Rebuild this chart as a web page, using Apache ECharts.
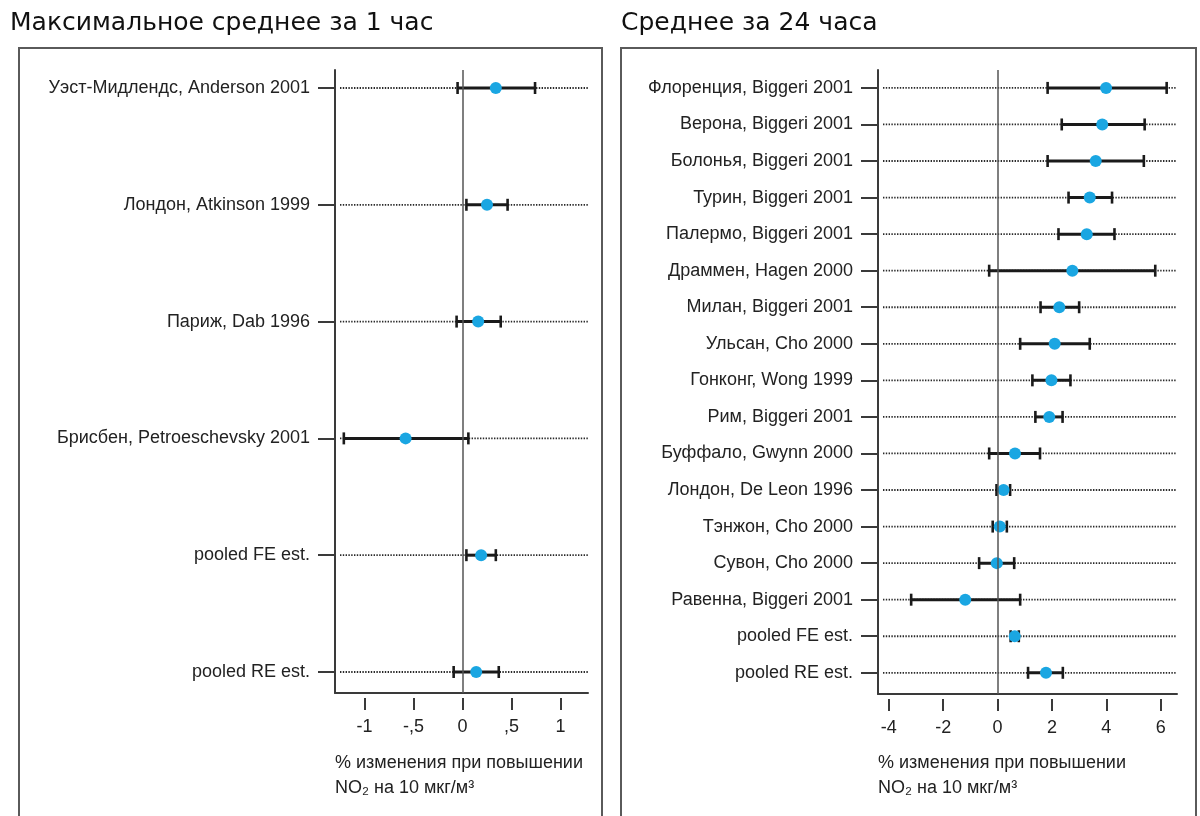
<!DOCTYPE html>
<html>
<head>
<meta charset="utf-8">
<script src="https://cdn.jsdelivr.net/npm/echarts@6/dist/echarts.min.js"></script>
<style>html,body{margin:0;padding:0;background:#fff}#c{width:1200px;height:816px}</style>
</head>
<body>
<div id="c"></div>
<script>
// ---- data ----
const leftTitle = 'Максимальное среднее за 1 час';
const rightTitle = 'Среднее за 24 часа';
const axisNameText = '% изменения при повышении\nNO₂ на 10 мкг/м³';

const leftLabels = ['Уэст-Мидлендс, Anderson 2001', 'Лондон, Atkinson 1999', 'Париж, Dab 1996',
  'Брисбен, Petroeschevsky 2001', 'pooled FE est.', 'pooled RE est.'];
const leftEst  = [0.34, 0.25, 0.16, -0.58, 0.19, 0.14];
const leftLow  = [-0.05, 0.04, -0.06, -1.21, 0.04, -0.09];
const leftHigh = [0.74, 0.46, 0.39, 0.06, 0.34, 0.37];
const leftTickValues = [-1, -0.5, 0, 0.5, 1];
const leftTickLabels = ['-1', '-,5', '0', ',5', '1'];

const rightLabels = ['Флоренция, Biggeri 2001', 'Верона, Biggeri 2001', 'Болонья, Biggeri 2001',
  'Турин, Biggeri 2001', 'Палермо, Biggeri 2001', 'Драммен, Hagen 2000', 'Милан, Biggeri 2001',
  'Ульсан, Cho 2000', 'Гонконг, Wong 1999', 'Рим, Biggeri 2001', 'Буффало, Gwynn 2000',
  'Лондон, De Leon 1996', 'Тэнжон, Cho 2000', 'Сувон, Cho 2000', 'Равенна, Biggeri 2001',
  'pooled FE est.', 'pooled RE est.'];
const rightEst  = [3.99, 3.85, 3.61, 3.39, 3.28, 2.75, 2.27, 2.10, 1.98, 1.90, 0.64, 0.22, 0.08, -0.03, -1.19, 0.63, 1.78];
const rightLow  = [1.84, 2.36, 1.84, 2.61, 2.24, -0.31, 1.58, 0.83, 1.28, 1.39, -0.31, -0.04, -0.18, -0.68, -3.18, 0.48, 1.12];
const rightHigh = [6.22, 5.41, 5.38, 4.21, 4.30, 5.80, 3.00, 3.39, 2.68, 2.39, 1.56, 0.46, 0.34, 0.61, 0.83, 0.78, 2.40];
const rightTickValues = [-4, -2, 0, 2, 4, 6];
const rightTickLabels = ['-4', '-2', '0', '2', '4', '6'];

// ---- build ----
const FONT = 'Liberation Sans';
const FS = 18;
const AX = '#3a3a3a';
const DOT = '#1aa6e2';

function rows(labels, est, low, high) {
  return labels.map((_, i) => [i, low[i], est[i], high[i]]);
}

function renderItem(params, api) {
  const i = api.value(0);
  const pLo = api.coord([api.value(1), i]);
  const pEst = api.coord([api.value(2), i]);
  const pHi = api.coord([api.value(3), i]);
  const cs = params.coordSys;
  const y = pEst[1];
  return {
    type: 'group',
    children: [
      { type: 'line', shape: { x1: cs.x + 5, y1: y, x2: cs.x + cs.width, y2: y },
        style: { stroke: '#2a2a2a', lineWidth: 1.8, lineDash: [1.4, 1.4] } },
      { type: 'line', shape: { x1: pLo[0], y1: y, x2: pHi[0], y2: y },
        style: { stroke: '#1a1a1a', lineWidth: 3 } },
      { type: 'line', shape: { x1: pLo[0], y1: y - 6, x2: pLo[0], y2: y + 6 },
        style: { stroke: '#1a1a1a', lineWidth: 2.6 } },
      { type: 'line', shape: { x1: pHi[0], y1: y - 6, x2: pHi[0], y2: y + 6 },
        style: { stroke: '#1a1a1a', lineWidth: 2.6 } },
      { type: 'circle', shape: { cx: pEst[0], cy: y, r: 6 },
        style: { fill: DOT } }
    ]
  };
}

function xLine(gi, min, max) {
  return { gridIndex: gi, type: 'value', min: min, max: max, position: 'bottom',
    axisLine: { show: true, onZero: false, lineStyle: { color: AX, width: 2 } },
    axisTick: { show: false }, axisLabel: { show: false }, splitLine: { show: false } };
}
function xTicks(gi, min, max, vals, labs) {
  return { gridIndex: gi, type: 'value', min: min, max: max, position: 'bottom', offset: 5,
    axisLine: { show: false, onZero: false },
    axisTick: { show: true, customValues: vals, length: 12, lineStyle: { color: AX, width: 2 } },
    axisLabel: { show: true, customValues: vals, margin: 20, fontFamily: FONT, fontSize: FS, color: '#222',
      formatter: v => { const k = vals.findIndex(t => Math.abs(t - v) < 1e-9); return k >= 0 ? labs[k] : ''; } },
    splitLine: { show: false } };
}
function yAxis(gi, min, max, labels) {
  const idx = labels.map((_, i) => i);
  return { gridIndex: gi, type: 'value', inverse: true, min: min, max: max,
    axisLine: { show: true, onZero: false, lineStyle: { color: AX, width: 2 } },
    axisTick: { show: true, customValues: idx, length: 17, lineStyle: { color: AX, width: 2 } },
    axisLabel: { show: true, customValues: idx, margin: 25, fontFamily: FONT, fontSize: FS, color: '#222',
      formatter: v => labels[Math.round(v)] || '' },
    splitLine: { show: false } };
}
function series(xi, yi, data) {
  return { type: 'custom', xAxisIndex: xi, yAxisIndex: yi, renderItem: renderItem,
    encode: { x: [1, 2, 3], y: 0 }, data: data, clip: false, silent: true,
    markLine: { silent: true, symbol: 'none', label: { show: false },
      lineStyle: { color: '#555', width: 1.5, type: 'solid' }, data: [{ xAxis: 0 }] } };
}

const titleStyle = { fontFamily: 'DejaVu Sans', fontSize: 25, fontWeight: 'normal', color: '#111' };
const nameStyle = { fontFamily: FONT, fontSize: FS, fontWeight: 'normal', color: '#222', lineHeight: 25 };

const option = {
  backgroundColor: '#fff',
  animation: false,
  title: [
    { text: leftTitle, left: 10, top: 11, padding: 0, textStyle: titleStyle },
    { text: rightTitle, left: 621, top: 11, padding: 0, textStyle: titleStyle },
    { text: axisNameText, left: 335, top: 751, padding: 0, textStyle: nameStyle },
    { text: axisNameText, left: 878, top: 751, padding: 0, textStyle: nameStyle }
  ],
  graphic: [
    { type: 'rect', shape: { x: 19, y: 48, width: 583, height: 800 }, silent: true,
      style: { fill: 'none', stroke: '#5a5a5a', lineWidth: 2 } },
    { type: 'rect', shape: { x: 621, y: 48, width: 575, height: 800 }, silent: true,
      style: { fill: 'none', stroke: '#5a5a5a', lineWidth: 2 } }
  ],
  grid: [
    { left: 335, top: 70, width: 253, height: 623 },
    { left: 878, top: 70, width: 299, height: 624 }
  ],
  xAxis: [
    xLine(0, -1.3, 1.28),
    xTicks(0, -1.3, 1.28, leftTickValues, leftTickLabels),
    xLine(1, -4.4, 6.6),
    xTicks(1, -4.4, 6.6, rightTickValues, rightTickLabels)
  ],
  yAxis: [
    yAxis(0, -0.154, 5.18, leftLabels),
    yAxis(1, -0.49, 16.58, rightLabels)
  ],
  series: [
    series(0, 0, rows(leftLabels, leftEst, leftLow, leftHigh)),
    series(2, 1, rows(rightLabels, rightEst, rightLow, rightHigh))
  ]
};

const chart = echarts.init(document.getElementById('c'), null, { renderer: 'canvas' });
chart.setOption(option);
</script>
</body>
</html>
